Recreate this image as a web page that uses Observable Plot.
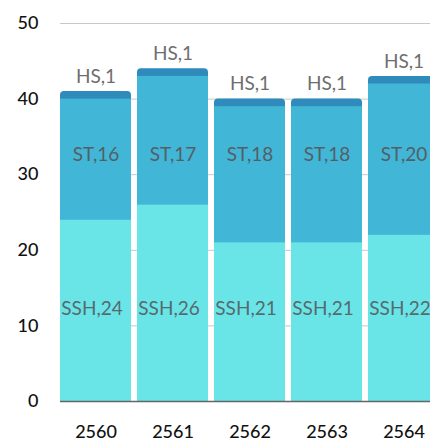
<!DOCTYPE html>
<html>
<head>
<meta charset="utf-8">
<script src="https://cdn.jsdelivr.net/npm/d3@7"></script>
<script src="https://cdn.jsdelivr.net/npm/@observablehq/plot@0.6"></script>
<style>
  html, body { margin: 0; padding: 0; background: #fff; overflow: hidden; }
  #chart svg { overflow: hidden; display: block; }
</style>
</head>
<body>
<div id="chart"></div>
<script>
const years = ["2560", "2561", "2562", "2563", "2564"];
const ssh = [24, 26, 21, 21, 22];
const st = [16, 17, 18, 18, 20];
const hs = [1, 1, 1, 1, 1];
const yTicks = [0, 10, 20, 30, 40, 50];

const colors = { SSH: "#69e5e7", ST: "#42b6d6", HS: "#2e8bbb" };

const rows = years.map((y, i) => ({
  year: y,
  ssh: ssh[i],
  st: st[i],
  hs: hs[i],
  sshTop: ssh[i],
  stTop: ssh[i] + st[i],
  total: ssh[i] + st[i] + hs[i]
}));

const font = "Lato, 'Open Sans', sans-serif";

const chart = Plot.plot({
  width: 430,
  height: 443,
  marginLeft: 60,
  marginRight: 0,
  marginTop: 23,
  marginBottom: 42,
  style: { fontFamily: font, background: "#fff", overflow: "hidden" },
  x: {
    domain: years,
    range: [60, 439],
    paddingInner: 0.078,
    paddingOuter: 0,
    align: 0,
    tickSize: 0,
    tickPadding: 24,
    label: null
  },
  y: {
    domain: [0, 50],
    ticks: yTicks,
    tickSize: 0,
    tickPadding: 22,
    label: null
  },
  marks: [
    Plot.ruleY(yTicks.filter(d => d > 0), { stroke: "#c8c8c8", strokeWidth: 1 }),
    Plot.barY(rows, { x: "year", y1: 0, y2: "total", fill: colors.HS, rx: 4, inset: 0 }),
    Plot.barY(rows, { x: "year", y1: "sshTop", y2: "stTop", fill: colors.ST, inset: 0 }),
    Plot.barY(rows, { x: "year", y1: 0, y2: "sshTop", fill: colors.SSH, inset: 0 }),
    Plot.ruleY([0], { stroke: "#666", strokeWidth: 1.5 }),
    Plot.text(rows, { x: "year", y: "total", dy: -15, text: d => "HS," + d.hs, fill: "#6e6e6e", fontSize: 19, fontFamily: font }),
    Plot.text(rows, { x: "year", y: () => 32.6, text: d => "ST," + d.st, fill: "#535f66", fontSize: 19, fontFamily: font }),
    Plot.text(rows, { x: "year", y: () => 12.2, dx: -4, text: d => "SSH," + d.ssh, fill: "#566a6e", fontSize: 19, fontFamily: font })
  ]
});

chart.querySelectorAll("g[aria-label='x-axis tick label'], g[aria-label='x-axis'], g[aria-label='y-axis tick label'], g[aria-label='y-axis']").forEach(g => {
  g.setAttribute("font-size", "18");
  g.style.fontSize = "18px";
  g.style.fontWeight = "500";
  g.setAttribute("fill", "#111");
  g.querySelectorAll("text").forEach(t => {
    t.style.fontSize = "18px";
    t.style.fontWeight = "500";
    t.setAttribute("fill", "#111");
  });
});

document.getElementById("chart").appendChild(chart);
</script>
</body>
</html>
